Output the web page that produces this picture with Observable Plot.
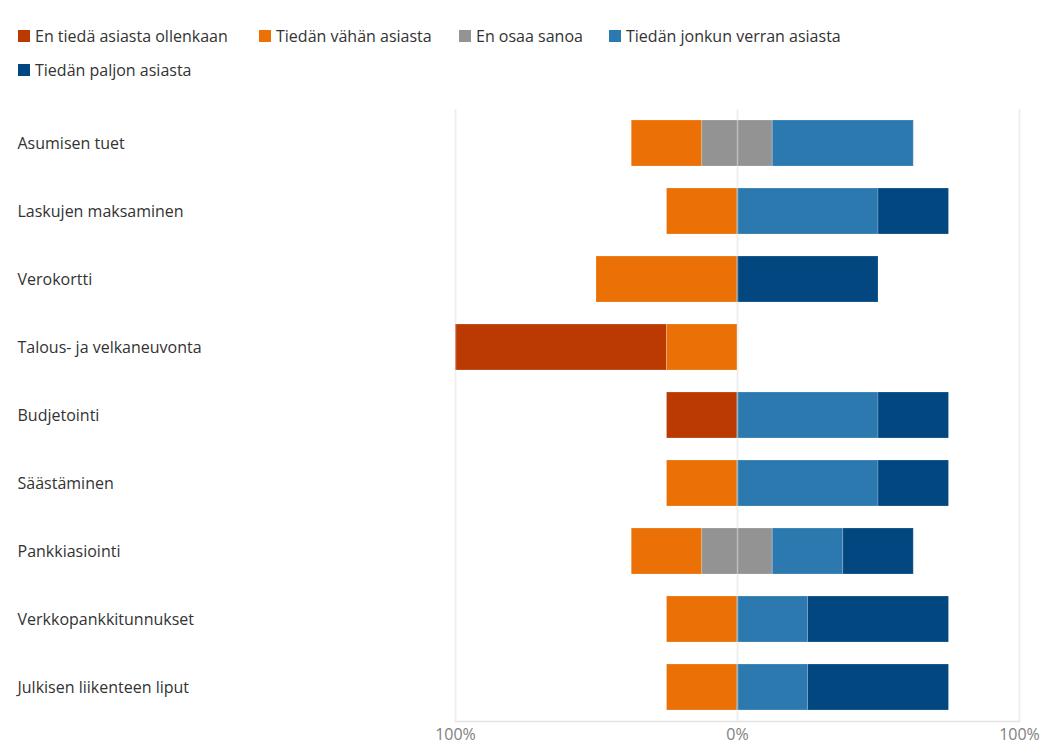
<!DOCTYPE html>
<html>
<head>
<meta charset="utf-8">
<script src="https://cdn.jsdelivr.net/npm/d3@7"></script>
<script src="https://cdn.jsdelivr.net/npm/@observablehq/plot@0.6"></script>
<style>
  html, body { margin: 0; padding: 0; background: #fff; }
  body { width: 1047px; height: 746px; overflow: hidden; font-family: "Open Sans", sans-serif; }
  #legend { position: relative; height: 86px; }
  .item { position: absolute; display: flex; align-items: center; font-size: 16px; color: #333; white-space: nowrap; line-height: 20px; }
  .sw { width: 12px; height: 12px; margin-right: 5px; }
</style>
</head>
<body>
<div id="legend"></div>
<div id="chart"></div>
<script>
const categories = ["Asumisen tuet","Laskujen maksaminen","Verokortti","Talous- ja velkaneuvonta","Budjetointi","Säästäminen","Pankkiasiointi","Verkkopankkitunnukset","Julkisen liikenteen liput"];
const seriesNames = ["En tiedä asiasta ollenkaan","Tiedän vähän asiasta","En osaa sanoa","Tiedän jonkun verran asiasta","Tiedän paljon asiasta"];
const seriesColors = ["#bb3a02","#eb7106","#939393","#2c79b0","#02477f"];
const redVals    = [0, 0, 0, 75, 25, 0, 0, 0, 0];
const orangeVals = [25, 25, 50, 25, 0, 25, 25, 25, 25];
const grayVals   = [25, 0, 0, 0, 0, 0, 25, 0, 0];
const blueVals   = [50, 50, 0, 0, 50, 50, 25, 25, 25];
const darkVals   = [0, 25, 50, 0, 25, 25, 25, 50, 50];
const tickValues = [-100, 0, 100];

// legend
const legendPos = [[18,26],[259,26],[459,26],[609,26],[18,60]];
const legend = document.getElementById("legend");
seriesNames.forEach((n, i) => {
  const it = document.createElement("div");
  it.className = "item";
  it.style.left = legendPos[i][0] + "px";
  it.style.top = legendPos[i][1] + "px";
  it.innerHTML = `<span class="sw" style="background:${seriesColors[i]}"></span>${n}`;
  legend.appendChild(it);
});

// build diverging segments
const all = [redVals, orangeVals, grayVals, blueVals, darkVals];
const segs = [];
categories.forEach((c, j) => {
  const v = all.map(a => a[j]);
  let start = -(v[0] + v[1] + v[2] / 2);
  v.forEach((val, i) => {
    if (val > 0) segs.push({cat: c, series: seriesNames[i], x1: start, x2: start + val});
    start += val;
  });
});

const chart = Plot.plot({
  width: 1047,
  height: 660,
  marginLeft: 455,
  marginRight: 28,
  marginTop: 23,
  marginBottom: 25,
  style: {fontFamily: "Open Sans, sans-serif", fontSize: "16px", color: "#333", overflow: "visible"},
  x: {domain: [-100, 100]},
  y: {domain: categories, paddingInner: 0.32, paddingOuter: 0.16, label: null},
  color: {domain: seriesNames, range: seriesColors},
  marks: [
    Plot.ruleX(tickValues, {stroke: "#e3e3e3", strokeWidth: 1.5}),
    Plot.frame({anchor: "bottom", stroke: "#e3e3e3", strokeWidth: 1.5}),
    Plot.barX(segs, {y: "cat", x1: "x1", x2: "x2", fill: "series", stroke: "#fff", strokeOpacity: 0.2, strokeWidth: 1}),
    Plot.ruleX(tickValues, {stroke: "#ffffff", strokeOpacity: 0.4, strokeWidth: 1.5}),
    Plot.axisX({ticks: tickValues, tickFormat: d => Math.abs(d) + "%", tickSize: 0, tickPadding: 7, fontSize: 16, color: "#808080", label: null}),
    Plot.axisY({tickSize: 0, textAnchor: "start", dx: -429, fontSize: 16, color: "#333", label: null})
  ]
});
document.getElementById("chart").appendChild(chart);
</script>
</body>
</html>
